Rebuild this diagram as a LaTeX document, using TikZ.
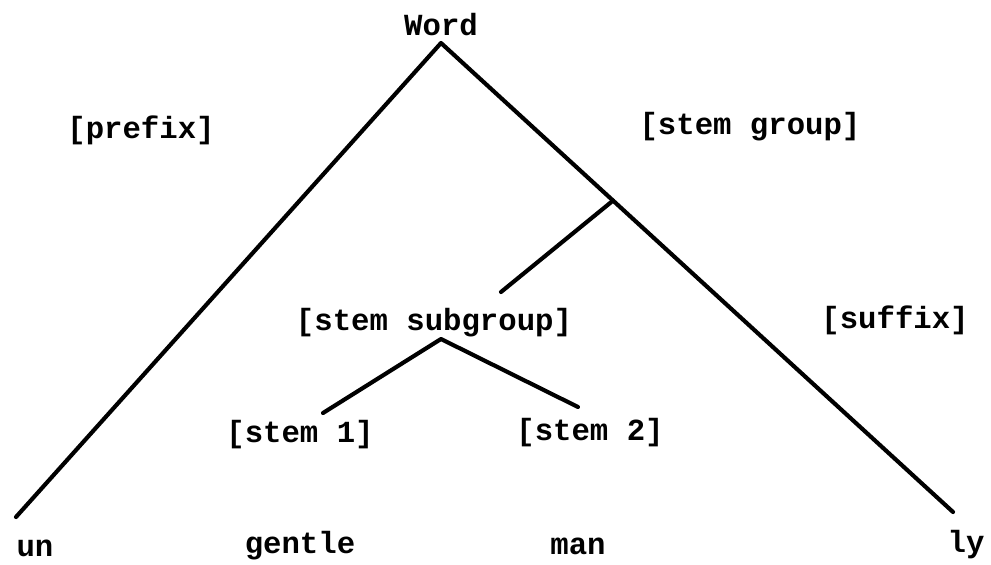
\documentclass[tikz,border=0pt]{standalone}
\usepackage{fontspec}
\newfontfamily\twfont{Liberation Mono}
\usetikzlibrary{calc}
\begin{document}
\begin{tikzpicture}[x=0.75pt,y=-0.75pt,
  lbl/.style={inner sep=0pt,font=\twfont\bfseries\fontsize{23}{27}\selectfont},
  branch/.style={line width=3.1pt,line cap=round,line join=round}]
\useasboundingbox (0,0) rectangle (991,564);
% labels
\node[lbl] (word) at (441,25) {Word};
\node[lbl] (prefix) at (141,130) {[prefix]};
\node[lbl] (stemgroup) at (750,127) {[stem group]};
\node[lbl] (subgroup) at (434,323) {[stem subgroup]};
\node[lbl] (stemone) at (300,435) {[stem 1]};
\node[lbl] (stemtwo) at (590,433) {[stem 2]};
\node[lbl] (suffix) at (895,320) {[suffix]};
\node[lbl] (un) at (35,548) {un};
\node[lbl] (gentle) at (300,546) {gentle};
\node[lbl] (man) at (578,546) {man};
\node[lbl] (ly) at (966,545) {ly};
% connector points
\coordinate (top) at (441,43);
\coordinate (lb) at (16,517);
\coordinate (rb) at (953,512);
\coordinate (j) at ($(top)!0.336!(rb)$);
\coordinate (je) at (501,292);
\coordinate (sa) at (441,339);
\coordinate (sl) at (323,413);
\coordinate (sr) at (578,407);
% lines
\draw[branch] (lb) -- (top) -- (rb);
\draw[branch] (j) -- (je);
\draw[branch] (sl) -- (sa) -- (sr);
\end{tikzpicture}
\end{document}
